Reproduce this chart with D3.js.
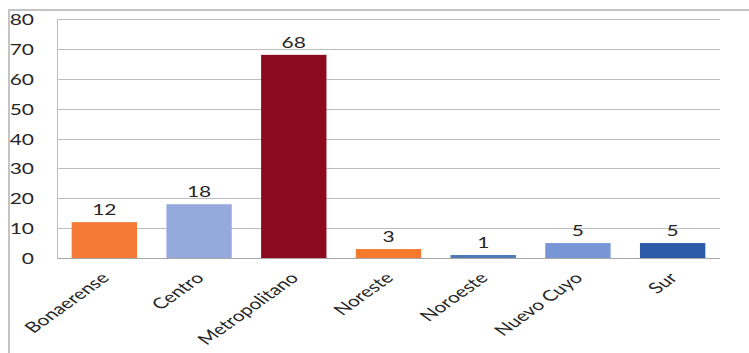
<!DOCTYPE html>
<html>
<head>
<meta charset="utf-8">
<script src="https://cdn.jsdelivr.net/npm/d3@7"></script>
<style>
  body { margin: 0; background: #fff; }
  svg { display: block; }
  text { font-family: Lato, "Open Sans", sans-serif; fill: #262626; }
</style>
</head>
<body>
<svg id="canvas" width="749" height="353"></svg>
<script>
const regions = ["Bonaerense", "Centro", "Metropolitano", "Noreste", "Noroeste", "Nuevo Cuyo", "Sur"];
const values = [12, 18, 68, 3, 1, 5, 5];
const barColors = ["#f47a36", "#95a9dd", "#8c0a1e", "#f67a2e", "#4f79b4", "#7896d6", "#2d5aa9"];
const yTicks = [0, 10, 20, 30, 40, 50, 60, 70, 80];

const svg = d3.select("#canvas");
const stretch = 1.4; // the picture is wider than tall text would be

const plotLeft = 57, plotRight = 720, plotTop = 19, plotBottom = 258;

const x = d3.scaleBand().domain(regions).range([plotLeft, plotRight]).paddingInner(0.31).paddingOuter(0.155);
const y = d3.scaleLinear().domain([0, 80]).range([plotBottom, plotTop]);

// outer frame
svg.append("path")
  .attr("d", "M9,353 V10 H749")
  .attr("fill", "none")
  .attr("stroke", "#c4c4c4")
  .attr("stroke-width", 2);

// gridlines
svg.selectAll(".grid")
  .data(yTicks)
  .enter()
  .append("line")
  .attr("x1", plotLeft)
  .attr("x2", plotRight)
  .attr("y1", (d) => Math.round(y(d)) + 0.5)
  .attr("y2", (d) => Math.round(y(d)) + 0.5)
  .attr("stroke", (d) => (d === 0 ? "#a6a6a6" : "#bdbdbd"))
  .attr("stroke-width", 1);

// plot area left edge
svg.append("line")
  .attr("x1", plotLeft + 0.5)
  .attr("x2", plotLeft + 0.5)
  .attr("y1", plotTop)
  .attr("y2", plotBottom)
  .attr("stroke", "#bdbdbd");

// y tick labels
svg.selectAll(".ylab")
  .data(yTicks)
  .enter()
  .append("text")
  .attr("transform", (d) => `translate(34,${y(d) + 6}) scale(${stretch},1)`)
  .attr("text-anchor", "end")
  .attr("font-size", 15)
  .text((d) => d);

// bars
svg.selectAll(".bar")
  .data(values)
  .enter()
  .append("rect")
  .attr("x", (d, i) => x(regions[i]))
  .attr("y", (d) => y(d))
  .attr("width", x.bandwidth())
  .attr("height", (d) => y(0) - y(d))
  .attr("fill", (d, i) => barColors[i]);

// value labels
svg.selectAll(".val")
  .data(values)
  .enter()
  .append("text")
  .attr("transform", (d, i) => `translate(${x(regions[i]) + x.bandwidth() / 2},${y(d) - 7}) scale(${stretch},1)`)
  .attr("text-anchor", "middle")
  .attr("font-size", 15)
  .text((d) => d);

// category labels
svg.selectAll(".xlab")
  .data(regions)
  .enter()
  .append("text")
  .attr("transform", (d) => `translate(${x(d) + x.bandwidth() / 2 + 6},${plotBottom + 21}) scale(${stretch},1) rotate(-45)`)
  .attr("text-anchor", "end")
  .attr("font-size", 15)
  .text((d) => d);
</script>
</body>
</html>
